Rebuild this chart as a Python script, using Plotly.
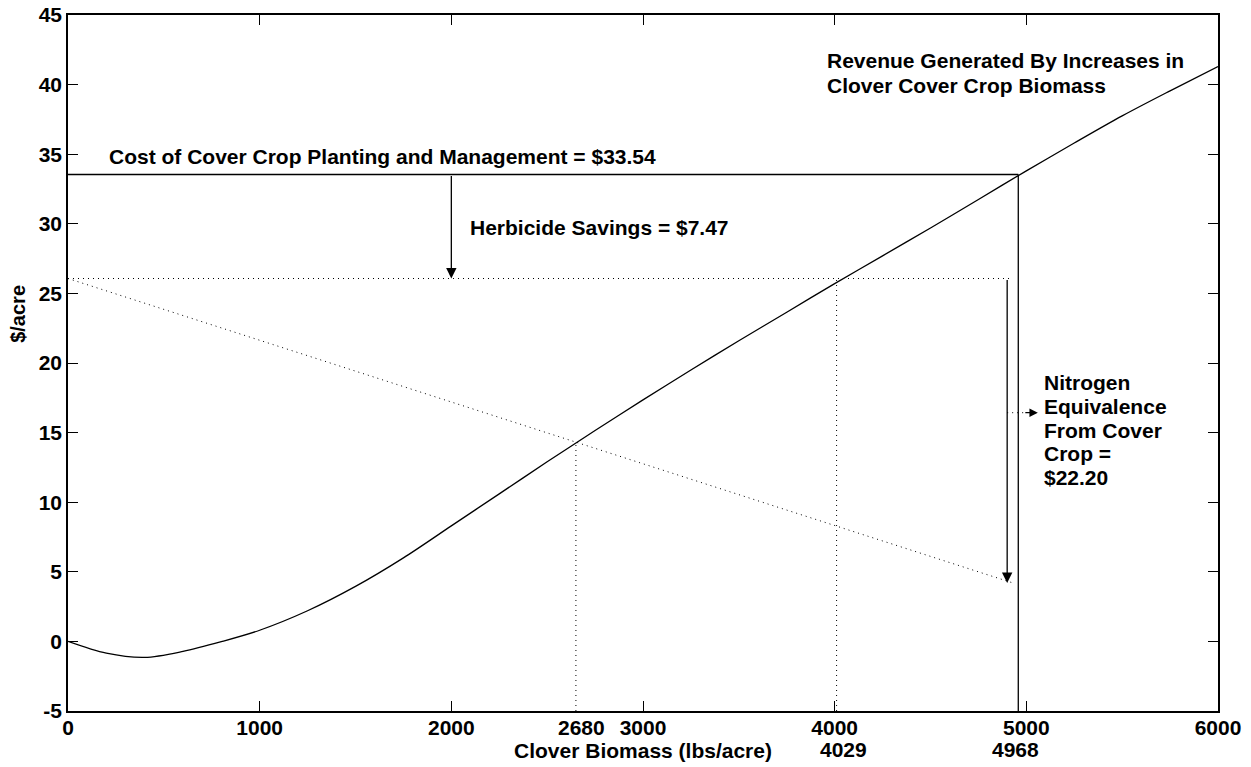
import plotly.graph_objects as go

# ---- data ----
biomass = [0, 200, 400, 600, 800, 1000, 1250, 1500, 1750, 2000, 2250, 2500, 2750,
           3000, 3250, 3500, 3750, 4000, 4250, 4500, 4750, 5000, 5250, 5500, 5750, 6000]
revenue = [0, -0.85, -1.15, -0.72, -0.02, 0.8, 2.2, 3.95, 6.0, 8.3, 10.6, 12.9, 15.15,
           17.35, 19.5, 21.6, 23.65, 25.7, 27.7, 29.7, 31.75, 33.8, 35.8, 37.75, 39.55, 41.3]

cost = 33.54
herbicide_savings = 7.47
net_cost = 26.07                      # cost - herbicide savings
nitrogen_end_x = 4930                 # end of nitrogen-credit dotted line
nitrogen_end_y = 4.2
cross_x = [2650, 4010, 4958]          # vertical drop lines (as drawn)
cross_y = [14.25, 26.07, 33.54]
cross_labels = ["2680", "4029", "4968"]
cross_label_x = [2680, 4045, 4945]
herb_arrow_x = 2000
nitro_arrow_x = 4900
nitro_small_y = 16.43
nitro_small_tip = 5060

xticks = [0, 1000, 2000, 3000, 4000, 5000, 6000]
yticks = [-5, 0, 5, 10, 15, 20, 25, 30, 35, 40, 45]

FONT = "Liberation Sans, Arial, sans-serif"
FS = 21

fig = go.Figure()

# revenue curve
fig.add_trace(go.Scatter(x=biomass, y=revenue, mode="lines",
                         line=dict(color="black", width=1.3, shape="spline", smoothing=0.9),
                         showlegend=False, hoverinfo="skip"))
# cost line
fig.add_trace(go.Scatter(x=[0, cross_x[2]], y=[cost, cost], mode="lines",
                         line=dict(color="black", width=1.3), showlegend=False))
# net cost dotted line
fig.add_trace(go.Scatter(x=[0, nitrogen_end_x], y=[net_cost, net_cost], mode="lines",
                         line=dict(color="black", width=1, dash="1px,4px"), showlegend=False))
# nitrogen diagonal dotted
fig.add_trace(go.Scatter(x=[0, nitrogen_end_x], y=[net_cost, nitrogen_end_y], mode="lines",
                         line=dict(color="black", width=1, dash="1px,4px"), showlegend=False))
# vertical dotted drop lines
for cx, cy in zip(cross_x[:2], cross_y[:2]):
    fig.add_trace(go.Scatter(x=[cx, cx], y=[-5, cy], mode="lines",
                             line=dict(color="black", width=1, dash="1px,4px"), showlegend=False))
# solid vertical at break-even
fig.add_trace(go.Scatter(x=[cross_x[2], cross_x[2]], y=[-5, cross_y[2]], mode="lines",
                         line=dict(color="black", width=1.3), showlegend=False))
# small dotted arrow shaft
fig.add_trace(go.Scatter(x=[nitro_arrow_x, nitro_small_tip - 60], y=[nitro_small_y, nitro_small_y], mode="lines",
                         line=dict(color="black", width=1, dash="1px,4px"), showlegend=False))

annotations = []
# herbicide arrow
annotations.append(dict(x=herb_arrow_x, y=net_cost, ax=herb_arrow_x, ay=cost, xref="x", yref="y",
                        axref="x", ayref="y", showarrow=True, arrowhead=2, arrowsize=1.6,
                        arrowwidth=1.3, arrowcolor="black", text=""))
# nitrogen arrow
annotations.append(dict(x=nitro_arrow_x, y=nitrogen_end_y, ax=nitro_arrow_x, ay=net_cost, xref="x", yref="y",
                        axref="x", ayref="y", showarrow=True, arrowhead=2, arrowsize=1.6,
                        arrowwidth=1.3, arrowcolor="black", text=""))
# small arrow head
annotations.append(dict(x=nitro_small_tip, y=nitro_small_y, ax=-14, ay=0,
                        xref="x", yref="y", showarrow=True, arrowhead=2,
                        arrowsize=1.4, arrowwidth=1.2, arrowcolor="black", text=""))

tfont = dict(family=FONT, size=FS, color="black", weight="bold")
annotations.append(dict(x=205, y=34.8, xref="x", yref="y", xanchor="left", yanchor="middle",
                        text="Cost of Cover Crop Planting and Management = $33.54", showarrow=False, font=tfont))
annotations.append(dict(x=2085, y=29.77, xref="x", yref="y", xanchor="left", yanchor="middle",
                        text="Herbicide Savings = $7.47", showarrow=False, font=tfont))
for txt, yy in zip(["Revenue Generated By Increases in", "Clover Cover Crop Biomass"], [41.7, 39.97]):
    annotations.append(dict(x=3950, y=yy, xref="x", yref="y", xanchor="left", yanchor="middle",
                            text=txt, showarrow=False, font=tfont))
for txt, yy in zip(["Nitrogen", "Equivalence", "From Cover", "Crop =", "$22.20"],
                   [18.57, 16.85, 15.12, 13.47, 11.74]):
    annotations.append(dict(x=5080, y=yy, xref="x", yref="y", xanchor="left", yanchor="middle",
                            text=txt, showarrow=False, font=tfont))
# extra x labels (below axis)
annotations.append(dict(x=cross_label_x[0], y=-0.0244, xref="x", yref="paper", xanchor="center", yanchor="middle",
                        text=cross_labels[0], showarrow=False, font=tfont))
for lx, lt in zip(cross_label_x[1:], cross_labels[1:]):
    annotations.append(dict(x=lx, y=-0.055, xref="x", yref="paper", xanchor="center", yanchor="middle",
                            text=lt, showarrow=False, font=tfont))
# y-axis title
annotations.append(dict(x=-0.043, y=23.5, xref="paper", yref="y", xanchor="center", yanchor="middle",
                        text="$/acre", textangle=-90, showarrow=False,
                        font=dict(family=FONT, size=20, color="black", weight="bold")))

fig.update_layout(
    width=1251, height=767,
    margin=dict(l=68, r=33, t=15, b=56),
    paper_bgcolor="white", plot_bgcolor="white",
    annotations=annotations,
    showlegend=False,
)
axis_common = dict(showgrid=False, zeroline=False, showline=True, linecolor="black", linewidth=1.5,
                   mirror="ticks", ticks="inside", ticklen=10, tickwidth=1.2, tickcolor="black",
                   automargin=False,
                   tickfont=dict(family=FONT, size=FS, color="black", weight="bold"))
fig.update_xaxes(range=[0, 6000], tickvals=xticks, ticktext=[str(v) for v in xticks],
                 ticklabelstandoff=-3,
                 title=dict(text="Clover Biomass (lbs/acre)", standoff=0,
                            font=dict(family=FONT, size=FS, color="black", weight="bold")),
                 **axis_common)
fig.update_yaxes(range=[-5, 45], tickvals=yticks, ticktext=[str(v) for v in yticks], **axis_common)

# remove the default page margin so the figure sits at the window's top-left corner
fig.write_html("out.html", config={"displayModeBar": False},
               post_script="document.body.style.margin='0px';document.body.style.overflow='hidden';")
